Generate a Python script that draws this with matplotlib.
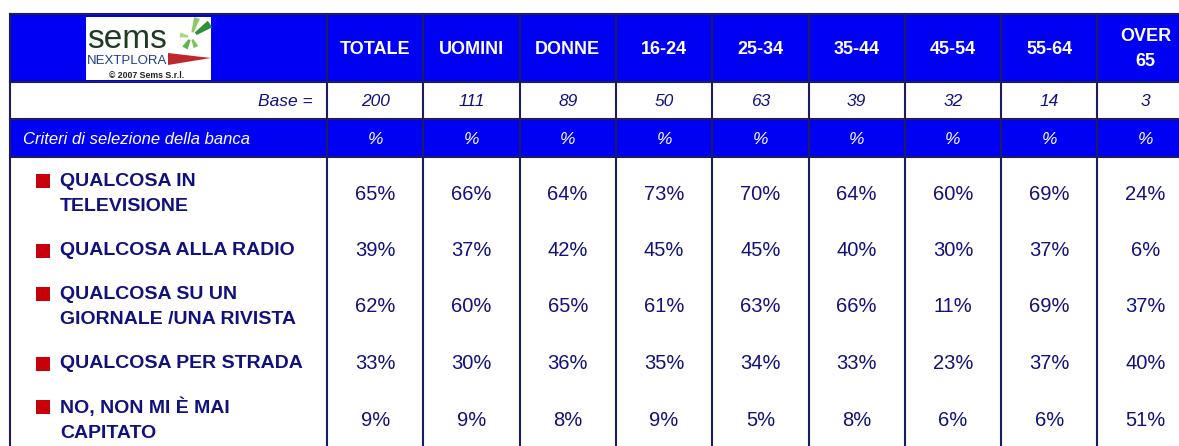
import matplotlib
matplotlib.use("Agg")
import matplotlib.pyplot as plt
from matplotlib.patches import Rectangle, Polygon

# DATA
columns = ["TOTALE", "UOMINI", "DONNE", "16-24", "25-34", "35-44", "45-54", "55-64", "OVER\n65"]
base = [200, 111, 89, 50, 63, 39, 32, 14, 3]
items = ["QUALCOSA IN\nTELEVISIONE",
         "QUALCOSA ALLA RADIO",
         "QUALCOSA SU UN\nGIORNALE /UNA RIVISTA",
         "QUALCOSA PER STRADA",
         "NO, NON MI È MAI\nCAPITATO"]
televisione = [65, 66, 64, 73, 70, 64, 60, 69, 24]
radio = [39, 37, 42, 45, 45, 40, 30, 37, 6]
giornale = [62, 60, 65, 61, 63, 66, 11, 69, 37]
strada = [33, 30, 36, 35, 34, 33, 23, 37, 40]
mai_capitato = [9, 9, 8, 9, 5, 8, 6, 6, 51]
values = [televisione, radio, giornale, strada, mai_capitato]

# STYLE
BLUE = "#0000F2"
NAVY = "#10107F"
LINE = "#1C1C5E"
RED = "#C8000A"
SANS = ["Liberation Sans", "DejaVu Sans"]

W, H = 1179, 446
X0 = 10           # left edge of table
LABEL_R = 327     # right edge of label column
COL_W = 96.3
Y_TOP, Y_HEAD, Y_BASE, Y_CRIT = 14, 82, 119, 157
ROW_C0, ROW_STEP = 194, 56.5

fig = plt.figure(figsize=(W / 100, H / 100), dpi=100)
ax = fig.add_axes([0, 0, 1, 1])
ax.set_xlim(0, W)
ax.set_ylim(H, 0)
ax.axis("off")

ncol = len(columns)
right = LABEL_R + COL_W * ncol

# backgrounds
ax.add_patch(Rectangle((X0, Y_TOP), right - X0, Y_HEAD - Y_TOP, color=BLUE, lw=0))
ax.add_patch(Rectangle((X0, Y_BASE), right - X0, Y_CRIT - Y_BASE, color=BLUE, lw=0))

# grid lines
for y in [Y_TOP, Y_HEAD, Y_BASE, Y_CRIT]:
    ax.plot([X0, right], [y, y], color=LINE, lw=1.5)
for i in range(ncol + 1):
    x = LABEL_R + COL_W * i
    ax.plot([x, x], [Y_TOP, H], color=LINE, lw=1.5)
ax.plot([X0, X0], [Y_TOP, H], color=LINE, lw=1.5)

# logo
ax.add_patch(Rectangle((86, 17), 125, 63, color="white", lw=0))
ax.text(87, 48, "sems", fontsize=24, color="#1E3B22", family=SANS,
        va="baseline", ha="left")
# green star strokes (tapered wedges)
cx, cy = 191, 37
strokes = [((210, 24), "#2F8F3A", 4), ((197, 18), "#8CCB5E", 3),
           ((180, 35), "#A7D77F", 2.5), ((185, 48), "#5DB54A", 3), ((196, 47), "#7CC25A", 2.5)]
for (ex, ey), c, w in strokes:
    dx, dy = ex - cx, ey - cy
    n = (dx * dx + dy * dy) ** 0.5
    px, py = -dy / n * w, dx / n * w
    ax.add_patch(Polygon([[cx + dx * 0.25 + px * 0.4, cy + dy * 0.25 + py * 0.4],
                          [ex + px, ey + py], [ex - px, ey - py],
                          [cx + dx * 0.25 - px * 0.4, cy + dy * 0.25 - py * 0.4]],
                         color=c, lw=0))
ax.text(87, 64.5, "NEXTPLORA", fontsize=9.5, color="#1F3C8F", family=SANS,
        va="baseline", ha="left")
ax.add_patch(Polygon([[168, 53], [168, 65], [211, 58]], color="#C0272D", lw=0))
ax.text(147, 75, "© 2007 Sems S.r.l.", fontsize=6.3, color="#222222", family=SANS,
        weight="bold", va="center", ha="center")

# header row
for i, name in enumerate(columns):
    xc = LABEL_R + COL_W * (i + 0.5)
    ax.text(xc, 49, name, color="white", fontsize=13, weight="bold", family=SANS,
            ha="center", va="center", linespacing=1.6)
    ax.text(xc, 102, str(base[i]), color=NAVY, fontsize=12.5, style="italic", family=SANS,
            ha="center", va="center")
    ax.text(xc, 139, "%", color="white", fontsize=12.5, style="italic", family=SANS,
            ha="center", va="center")

ax.text(313, 102, "Base =", color=NAVY, fontsize=12.5, style="italic", family=SANS,
        ha="right", va="center")
ax.text(23, 139, "Criteri di selezione della banca", color="white", fontsize=12,
        style="italic", family=SANS, ha="left", va="center")

# data rows
for r, (label, row) in enumerate(zip(items, values)):
    yc = ROW_C0 + ROW_STEP * r
    first_line = yc - 13.5 if "\n" in label else yc
    ax.add_patch(Rectangle((36, first_line - 7), 14, 14, color=RED, lw=0))
    ax.text(60, yc, label, color=NAVY, fontsize=14, weight="bold", family=SANS,
            ha="left", va="center", linespacing=1.6)
    for i, v in enumerate(row):
        xc = LABEL_R + COL_W * (i + 0.5)
        ax.text(xc, yc, f"{v}%", color=NAVY, fontsize=14.5, family=SANS,
                ha="center", va="center")

fig.savefig("out.png", dpi=100)
